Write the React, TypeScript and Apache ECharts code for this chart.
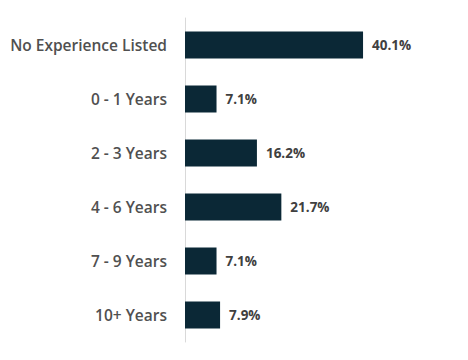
import React, { useEffect, useRef } from "react";
import * as echarts from "echarts";

const categories = [
  "No Experience Listed",
  "0 - 1 Years",
  "2 - 3 Years",
  "4 - 6 Years",
  "7 - 9 Years",
  "10+ Years",
];
const values = [40.1, 7.1, 16.2, 21.7, 7.1, 7.9];

export default function App() {
  const ref = useRef<HTMLDivElement>(null);
  useEffect(() => {
    if (!ref.current) return;
    const chart = echarts.init(ref.current, null, { renderer: "svg" });
    chart.setOption({
      animation: false,
      backgroundColor: "#ffffff",
      grid: { left: 185, top: 18, bottom: 18, right: 61, containLabel: false },
      xAxis: {
        type: "value",
        min: 0,
        max: 50,
        show: false,
      },
      yAxis: {
        type: "category",
        data: categories,
        inverse: true,
        axisLine: { show: true, lineStyle: { color: "#d9d9d9", width: 1 } },
        axisTick: { show: false },
        axisLabel: {
          margin: 18,
          color: "#505050",
          fontSize: 15.5,
          fontWeight: 600,
          fontFamily: "Open Sans",
        },
      },
      series: [
        {
          type: "bar",
          data: values,
          barWidth: 27,
          itemStyle: { color: "#0b2836" },
          label: {
            show: true,
            position: "right",
            distance: 9,
            formatter: (p: any) => p.value.toFixed(1) + "%",
            color: "#404040",
            fontSize: 13.5,
            fontWeight: "bold",
            fontFamily: "Open Sans",
          },
        },
      ],
    });
    return () => chart.dispose();
  }, []);
  return (
    <div
      ref={ref}
      style={{ position: "absolute", left: 0, top: 0, width: 468, height: 360 }}
    />
  );
}
